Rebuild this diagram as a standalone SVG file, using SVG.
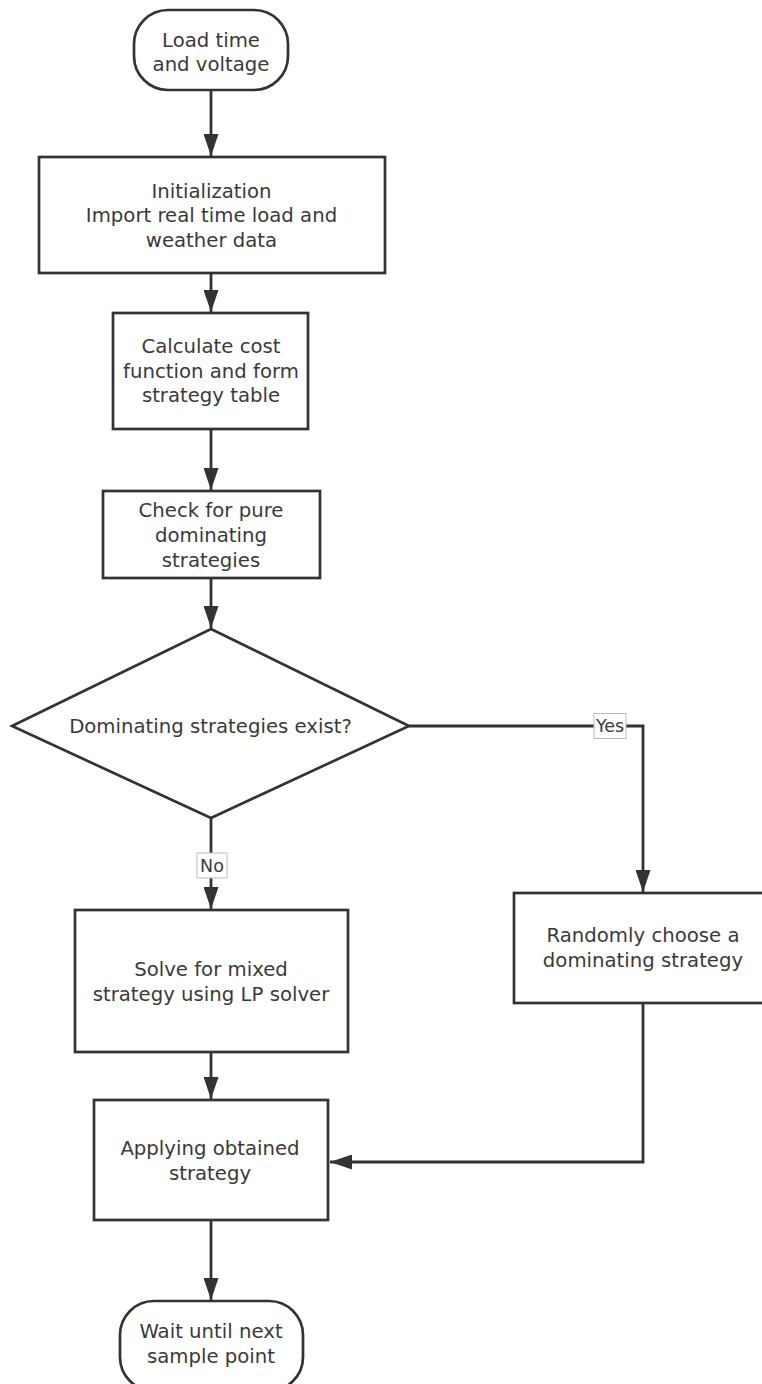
<svg xmlns="http://www.w3.org/2000/svg" width="762" height="1384" viewBox="0 0 762 1384">
<style>
.s{fill:#fff;stroke:#333;stroke-width:2.7}
.t{font-family:"DejaVu Sans","Open Sans",sans-serif;font-size:19.7px;fill:#3a3a3a;text-anchor:middle}
.l{font-family:"DejaVu Sans","Open Sans",sans-serif;font-size:17.5px;fill:#3a3a3a;text-anchor:middle}
.c{fill:none;stroke:#333;stroke-width:2.8}
.lb{fill:#fff;stroke:#bbb;stroke-width:1}
</style>
<defs>
<marker id="ah" viewBox="0 0 22 15" refX="22" refY="7.5" markerWidth="22" markerHeight="15" orient="auto" markerUnits="userSpaceOnUse">
<path d="M0,0 L22,7.5 L0,15 z" fill="#333"/>
</marker>
</defs>
<rect width="762" height="1384" fill="#fff"/>
<g id="connectors">
<path class="c" d="M211,90 V156" marker-end="url(#ah)"/>
<path class="c" d="M211,273 V312" marker-end="url(#ah)"/>
<path class="c" d="M211,429 V490" marker-end="url(#ah)"/>
<path class="c" d="M211,578 V628" marker-end="url(#ah)"/>
<path class="c" d="M409,726 H643 V892" marker-end="url(#ah)"/>
<path class="c" d="M211,818 V909" marker-end="url(#ah)"/>
<path class="c" d="M211,1052 V1099" marker-end="url(#ah)"/>
<path class="c" d="M643,1003 V1162 H330" marker-end="url(#ah)"/>
<path class="c" d="M211,1220 V1300" marker-end="url(#ah)"/>
<rect class="lb" x="594" y="713.5" width="32" height="25"/>
<text class="l" x="610" y="732">Yes</text>
<rect class="lb" x="197" y="853" width="30" height="25"/>
<text class="l" x="212" y="872">No</text>
</g>
<g id="start">
<rect class="s" x="134" y="10" width="154" height="80" rx="34" ry="34"/>
<text class="t" x="211" y="47">Load time</text>
<text class="t" x="211" y="71">and voltage</text>
</g>
<g id="init">
<rect class="s" x="39" y="157" width="346" height="116"/>
<text class="t" x="211.5" y="198">Initialization</text>
<text class="t" x="211.5" y="222">Import real time load and</text>
<text class="t" x="211.5" y="247">weather data</text>
</g>
<g id="calc">
<rect class="s" x="113" y="313" width="195" height="116"/>
<text class="t" x="211" y="353">Calculate cost</text>
<text class="t" x="211" y="378">function and form</text>
<text class="t" x="211" y="402">strategy table</text>
</g>
<g id="check">
<rect class="s" x="103" y="491" width="217" height="87"/>
<text class="t" x="211" y="517">Check for pure</text>
<text class="t" x="211" y="542">dominating</text>
<text class="t" x="211" y="567">strategies</text>
</g>
<g id="decision">
<polygon class="s" points="211,629 409,726 211,818 12,726"/>
<text class="t" x="210.5" y="733">Dominating strategies exist?</text>
</g>
<g id="solve">
<rect class="s" x="75" y="910" width="273" height="142"/>
<text class="t" x="211" y="976">Solve for mixed</text>
<text class="t" x="211" y="1001">strategy using LP solver</text>
</g>
<g id="random">
<rect class="s" x="514" y="893" width="258" height="110"/>
<text class="t" x="643" y="942">Randomly choose a</text>
<text class="t" x="643" y="967">dominating strategy</text>
</g>
<g id="apply">
<rect class="s" x="94" y="1100" width="234" height="120"/>
<text class="t" x="210" y="1155">Applying obtained</text>
<text class="t" x="210" y="1180">strategy</text>
</g>
<g id="end">
<rect class="s" x="120" y="1301" width="183" height="90" rx="34" ry="34"/>
<text class="t" x="211" y="1338">Wait until next</text>
<text class="t" x="211" y="1363">sample point</text>
</g>
</svg>
